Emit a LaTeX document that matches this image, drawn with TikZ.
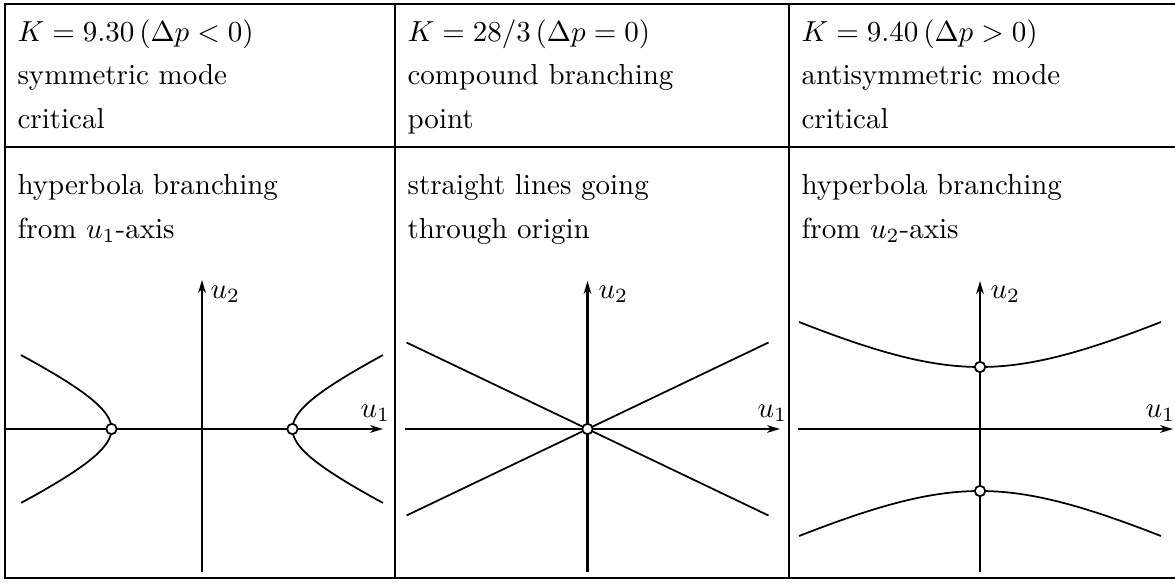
\documentclass[tikz,border=0pt]{standalone}
\usetikzlibrary{arrows.meta}
\begin{document}
\begin{tikzpicture}[x=0.345pt,y=-0.345pt,
 rule/.style={line width=0.7pt},
 axis/.style={line width=0.7pt,-{Stealth[length=4.4pt,width=2.6pt,inset=1.3pt]}},
 curve/.style={line width=0.6pt},
 txt/.style={anchor=base west,inner sep=0pt},
 bpt/.style={circle,draw,fill=white,line width=0.6pt,inner sep=0pt,minimum size=3.6pt}]
\useasboundingbox (0,0) rectangle (1175,582);
% table
\draw[rule] (1175,4) -- (5,4) -- (5,578) -- (1175,578);
\draw[rule] (5,147) -- (1175,147);
\draw[rule] (395,4) -- (395,578);
\draw[rule] (789,4) -- (789,578);
% header texts
\node[txt] (h1a) at (17,42) {$K=9.30\,(\Delta p<0)$};
\node[txt] (h1b) at (17,85) {symmetric mode};
\node[txt] (h1c) at (17,128) {critical};
\node[txt] (h2a) at (407,42) {$K=28/3\,(\Delta p=0)$};
\node[txt] (h2b) at (407,85) {compound branching};
\node[txt] (h2c) at (407,128) {point};
\node[txt] (h3a) at (801,42) {$K=9.40\,(\Delta p>0)$};
\node[txt] (h3b) at (801,85) {antisymmetric mode};
\node[txt] (h3c) at (801,128) {critical};
% body texts
\node[txt] (b1a) at (17,194) {hyperbola branching};
\node[txt] (b1b) at (17,238) {from $u_1$-axis};
\node[txt] (b2a) at (407,194) {straight lines going};
\node[txt] (b2b) at (407,238) {through origin};
\node[txt] (b3a) at (801,194) {hyperbola branching};
\node[txt] (b3b) at (801,238) {from $u_2$-axis};
% panel 1
\coordinate (o1) at (202,429);
\draw[rule] (6,429) -- (o1);
\draw[axis] (o1) -- (383,429);
\draw[axis] (202,572) -- (202,280);
\node[txt] (u21) at (210,298) {$u_2$};
\node[txt] (u11) at (360,417) {$u_1$};
\draw[curve] plot[domain=-1.317:1.317,samples=60,smooth] ({202-90.5*cosh(\x)},{429+42.7*sinh(\x)});
\draw[curve] plot[domain=-1.317:1.317,samples=60,smooth] ({202+90.5*cosh(\x)},{429+42.7*sinh(\x)});
\node[bpt] (p1a) at (111.5,429) {};
\node[bpt] (p1b) at (292.5,429) {};
% panel 2
\coordinate (o2) at (587.5,429);
\draw[axis] (405,429) -- (780,429);
\draw[axis] (587.5,572) -- (587.5,281);
\node[txt] (u22) at (598,298) {$u_2$};
\node[txt] (u12) at (757,417) {$u_1$};
\draw[curve] (406.5,342.5) -- (768.5,515.5);
\draw[curve] (406.5,515.5) -- (768.5,342.5);
\node[bpt] (p2) at (o2) {};
% panel 3
\coordinate (o3) at (980,429);
\draw[axis] (798,429) -- (1173,429);
\draw[axis] (980,572) -- (980,281);
\node[txt] (u23) at (990,298) {$u_2$};
\node[txt] (u13) at (1145,417) {$u_1$};
\draw[curve] plot[domain=-1.142:1.142,samples=60,smooth] ({980+128.6*sinh(\x)},{429-62*cosh(\x)});
\draw[curve] plot[domain=-1.142:1.142,samples=60,smooth] ({980+128.6*sinh(\x)},{429+62*cosh(\x)});
\node[bpt] (p3a) at (980,367) {};
\node[bpt] (p3b) at (980,491) {};
\end{tikzpicture}
\end{document}
